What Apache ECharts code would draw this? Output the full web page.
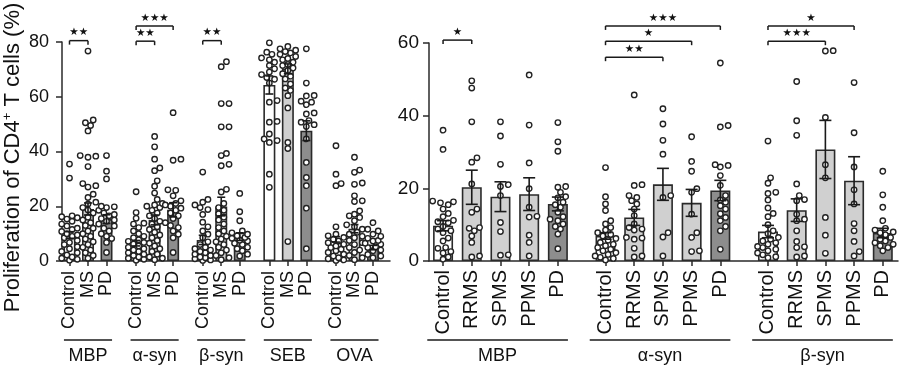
<!DOCTYPE html>
<html><head><meta charset="utf-8">
<script src="https://cdn.jsdelivr.net/npm/echarts@6/dist/echarts.min.js"></script>
<style>html,body{margin:0;padding:0;background:#fff}#c{width:900px;height:366px}</style>
</head><body><div id="c"></div>
<script>
// ---------- categories / labels ----------
const leftGroups = ['MBP', 'α-syn', 'β-syn', 'SEB', 'OVA'];
const leftCats = ['Control', 'MS', 'PD'];
const rightGroups = ['MBP', 'α-syn', 'β-syn'];
const rightCats = ['Control', 'RRMS', 'SPMS', 'PPMS', 'PD'];
const leftYTicks = [0, 20, 40, 60, 80];
const rightYTicks = [0, 20, 40, 60];
const yTitle = 'Proliferation of CD4{sup|+} T cells (%)';

// ---------- bar means and SEM ----------
const leftMeans = [[9.5, 19.0, 15.3], [6.5, 15.0, 18.7], [7.7, 19.9, 8.9], [64.3, 70.2, 47.6], [7.9, 11.8, 4.9]];
const leftSEM   = [[1.2, 2.2, 1.6], [1.0, 1.8, 2.6], [1.7, 3.4, 1.4], [3.3, 1.8, 3.6], [1.0, 1.5, 0.8]];
const rightMeans = [[9.7, 20.3, 17.7, 18.4, 15.7], [6.9, 12.0, 21.1, 16.0, 19.4], [8.1, 14.0, 30.7, 22.1, 7.7]];
const rightSEM   = [[1.4, 4.7, 4.1, 4.5, 1.9], [0.9, 2.2, 4.4, 3.7, 2.8], [1.7, 3.1, 8.0, 6.6, 1.3]];

// ---------- individual donors (left panel) ----------
const ptsL_MBP = [
  [35.4, 30.3, 16.5, 16.2, 15.8, 15.3, 14.5, 13.5, 12.8, 12, 11.5, 10.8, 10, 9.5, 9, 8.5, 7.5, 6.8, 6, 5.2, 4.5, 3.5, 3, 2.2, 1.5, 1, 0.6, 0.3],
  [76.7, 51.5, 50.5, 49.5, 47.5, 38.5, 38.3, 37.9, 34.5, 28.3, 27.5, 27, 24.4, 23.2, 21.5, 20.8, 19.5, 18.6, 17.5, 16, 15, 14, 13, 12, 11, 10, 9, 8, 7, 6, 5, 4, 3, 2, 1],
  [38.5, 32.8, 30, 20, 19.8, 19.5, 18.5, 17.5, 17, 16.5, 15.5, 15, 14.5, 13.5, 12.8, 12, 11, 10, 9, 8.2, 6.8, 3.1]
];
const ptsL_aSyn = [
  [25.3, 17.7, 15.6, 13.8, 13.5, 12.2, 11, 10, 9, 8.5, 7.8, 7.2, 6.8, 6.2, 5.5, 5, 4.5, 4, 3.5, 3, 2.5, 2, 1.5, 1, 0.6, 0.3],
  [45.5, 41.7, 37.2, 34, 33, 29.3, 27.3, 24.8, 22.5, 21, 20.5, 20, 19.5, 18.5, 17.5, 16.5, 15.5, 14.5, 13.5, 12.5, 11.5, 10.5, 9.5, 8.5, 7.5, 6.5, 5.5, 4.5, 3.5, 2.5, 1.5, 1, 0.5],
  [54.2, 37.2, 36.8, 26, 25.8, 23.8, 22, 21, 20.5, 20, 19.3, 18.5, 17.5, 16.5, 15.5, 14, 13, 12.2, 11, 9.8, 8.5, 3.1]
];
const ptsL_bSyn = [
  [32.5, 22.5, 21.5, 20.5, 19.5, 18.8, 17, 14.2, 12.5, 11, 9.8, 8.5, 7, 6, 5, 4.5, 4, 3.5, 3, 2.5, 2, 1.5, 1.2, 0.8, 0.4, 0.2],
  [72.8, 71, 57.5, 57.5, 49, 49, 39.3, 38.5, 35.3, 34.8, 26.2, 25.2, 21, 19.5, 18.5, 17.3, 16, 15, 13.5, 12.2, 11, 10, 9, 8, 7, 6, 5, 4, 3, 2, 1.2, 0.5],
  [24.7, 18, 14.7, 11, 10.3, 9.8, 9.2, 8.6, 8.3, 7.6, 7.3, 6.5, 6, 5, 4.5, 3.7, 2.5, 1.8]
];
const ptsL_SEB = [
  [79.7, 76.3, 75.5, 74.2, 73.5, 72.6, 71.4, 70.2, 69, 68.1, 67, 66.4, 65, 58.6, 58, 51, 50.7, 46.4, 44.6, 44, 43.3, 31.7, 26.9],
  [78.4, 77.5, 77, 76.5, 76, 75.5, 74.7, 74, 73.5, 72.6, 71.8, 71.4, 70.5, 69.6, 68.4, 67.5, 66.5, 64.7, 63.2, 62.3, 60.4, 55.9, 43.3, 41.1, 7.1],
  [77.5, 65, 60.5, 60.3, 58.4, 58, 57.1, 54.1, 53.7, 51.3, 50.7, 49.8, 49.1, 44.6, 36, 30.5, 27.5, 19.3, 4.5]
];
const ptsL_OVA = [
  [42.1, 31.7, 28.3, 27.5, 12.5, 9.8, 9.2, 8.6, 7.9, 7.3, 6.7, 6.1, 5.5, 4.9, 4.3, 3.7, 3.1, 2.5, 1.8, 1.2, 0.8, 0.4, 0.2],
  [37.9, 33.2, 32.4, 28.5, 28, 23.8, 22, 21.7, 18.3, 17.1, 16.5, 15.9, 14.7, 13.2, 12.5, 11.6, 10.5, 9.8, 9, 8.5, 7.5, 6.7, 6, 4.9, 4, 3.1, 2, 1.2, 0.5],
  [14, 11.6, 11, 9.8, 9, 8.3, 7.5, 7.3, 6.5, 6.1, 5.2, 4.9, 4, 3.7, 2.4, 1.8, 1.2]
];

// ---------- individual donors (right panel) ----------
const ptsR_MBP = [
  [36, 30.7, 16.5, 16.3, 16, 15.5, 14.3, 13.1, 12.2, 11.2, 10.8, 10.5, 9.5, 8.8, 8.3, 7.8, 6.3, 5.5, 3.7, 3.5, 2.6, 2.2, 1.1, 0.5],
  [49.6, 47.6, 38.3, 28.4, 27.2, 21.2, 14.3, 13.4, 9.2, 9, 8.3, 6.9, 5.1, 1.4, 1.1],
  [38.3, 34.4, 26.6, 21, 20.5, 18, 10.6, 8.1, 1.7, 1.6],
  [51.2, 37.4, 27, 19.9, 14.8, 12.3, 12.1, 7.1, 5.1, 1.4],
  [38.1, 32.8, 30.2, 20.5, 20.3, 18.9, 17.7, 17.4, 16.2, 15.5, 14.8, 13.4, 12.2, 11.5, 11.1, 10.2, 9.5, 8.8, 7.4, 3.4]
];
const ptsR_aSyn = [
  [25.7, 17.7, 15.7, 13.9, 11.1, 10.2, 9.2, 8.5, 7.8, 7.3, 6.9, 6.2, 5.7, 5.1, 4.6, 4.2, 3.7, 3.2, 2.8, 2.3, 1.8, 1.4, 1, 0.7, 0.3],
  [45.7, 21, 20.8, 18, 17.5, 16.6, 15.7, 14.3, 12.5, 10.2, 9.2, 8.8, 8.5, 6.5, 6.3, 6, 3.5, 1.4, 1.1],
  [41.9, 37.7, 33.2, 29.4, 18, 17.5, 7.8, 6.6, 1.4],
  [34.2, 27.4, 24.7, 19.9, 18.9, 12.9, 7.8, 6.5, 2.8, 2.6],
  [54.5, 37.3, 36.9, 26.5, 26.3, 25.9, 23.5, 20.8, 18, 16.8, 16.2, 15.2, 14.3, 13, 12, 11.1, 9.5, 8.3, 3.2]
];
const ptsR_bSyn = [
  [33, 22.9, 21.4, 18.9, 18.6, 16.8, 14.6, 13.1, 12.2, 10, 8.3, 7.5, 6.5, 6, 5.5, 5, 4.6, 4, 3.7, 3.2, 2.8, 2.2, 1.7, 1.2, 0.9],
  [49.4, 38.6, 34.6, 21.2, 18, 16.9, 16.6, 12.9, 11.5, 11.1, 8.3, 5.4, 3.9, 3.7, 1.4, 1.1],
  [57.9, 57.8, 39.5, 26.5, 22.9, 12, 7.1, 2.1],
  [49.1, 35.3, 25.9, 19.6, 15.7, 10.3, 8.3, 5.4, 2.6, 1.4],
  [24.7, 18.2, 14.8, 11.1, 9, 8.5, 8, 7.8, 7.2, 6.5, 6, 5.5, 5, 4.6, 4.2, 3.7, 2.8]
];

// ---------- significance: [group, fromBar, toBar, y, label] ----------
const leftSig = [[0, 0, 1, 80.5, '★★'], [1, 0, 1, 80.3, '★★'], [1, 0, 2, 85.8, '★★★'], [2, 0, 1, 80.5, '★★']];
const rightSig = [[0, 0, 1, 60.8, '★'], [1, 0, 2, 56.1, '★★'], [1, 0, 3, 60.5, '★'], [1, 0, 4, 64.7, '★★★'],
                  [2, 0, 2, 60.5, '★★★'], [2, 0, 3, 64.7, '★']];

// ---------- layout helpers ----------
const leftColors = ['#ffffff', '#d0d0d0', '#8d8d8d'];
const rightColors = ['#ffffff', '#d0d0d0', '#d0d0d0', '#d0d0d0', '#8d8d8d'];
const INK = '#2a2a2a';
const FONT = '"Liberation Sans", Arial, Helvetica, sans-serif';
const posL = (g, b) => +(g * 3.6 + b).toFixed(4);
const posR = (g, b) => +(g * 5.66 + b).toFixed(4);

const leftPts = [ptsL_MBP, ptsL_aSyn, ptsL_bSyn, ptsL_SEB, ptsL_OVA];
const rightPts = [ptsR_MBP, ptsR_aSyn, ptsR_bSyn];

function tickInfo(groups, cats, posFn) {
  const pos = [], lbl = {};
  groups.forEach((_, g) => cats.forEach((c, b) => { const x = posFn(g, b); pos.push(x); lbl[x.toFixed(3)] = c; }));
  return { pos, lbl };
}
const tL = tickInfo(leftGroups, leftCats, posL);
const tR = tickInfo(rightGroups, rightCats, posR);

function xAxisCfg(gi, min, max, t, fs, margin) {
  return {
    type: 'value', gridIndex: gi, min, max,
    axisLine: { show: true, onZero: false, lineStyle: { color: INK, width: 1.5 } },
    splitLine: { show: false },
    axisTick: { show: true, customValues: t.pos, length: 5, lineStyle: { color: INK, width: 1.5 } },
    axisLabel: { show: true, customValues: t.pos, rotate: 90, margin, fontSize: fs, fontFamily: FONT, color: '#111',
      formatter: v => t.lbl[(+v).toFixed(3)] || '' }
  };
}
function yAxisCfg(gi, max, ticks, fs, margin, withName) {
  const c = {
    type: 'value', gridIndex: gi, min: 0, max, interval: ticks[1] - ticks[0],
    axisLine: { show: true, onZero: false, lineStyle: { color: INK, width: 1.5 } },
    axisTick: { show: true, length: 6, lineStyle: { color: INK, width: 1.5 } },
    splitLine: { show: false },
    axisLabel: { fontSize: fs, fontFamily: FONT, color: '#111', margin }
  };
  if (withName) {
    c.name = yTitle; c.nameLocation = 'middle'; c.nameGap = 37;
    c.nameTextStyle = { fontSize: 22, fontFamily: FONT, color: '#111', lineHeight: 24, padding: [0, 12, 0, 0],
      rich: { sup: { fontSize: 13, fontFamily: FONT, color: '#111', verticalAlign: 'top', lineHeight: 13 } } };
  }
  return c;
}

function barSeries(ai, means, colors, posFn, width) {
  const data = [];
  means.forEach((g, gi) => g.forEach((m, bi) => data.push({ value: [posFn(gi, bi), m], itemStyle: { color: colors[bi] } })));
  return { type: 'bar', xAxisIndex: ai, yAxisIndex: ai, barWidth: width, data, z: 2, silent: true,
    itemStyle: { borderColor: INK, borderWidth: 1.6 } };
}

function pointSeries(ai, pts, posFn, halfW) {
  const data = [];
  pts.forEach((g, gi) => g.forEach((arr, bi) => data.push([posFn(gi, bi), 0, gi, bi])));
  return { type: 'custom', xAxisIndex: ai, yAxisIndex: ai, data, z: 3, silent: true, clip: false,
    encode: { x: 0, y: 1 },
    renderItem(params, api) {
      const x = api.value(0), vals = pts[api.value(2)][api.value(3)];
      const sorted = vals.slice().sort((a, b) => a - b);
      const placed = [], kids = [];
      const step = 2.6, minD = 5.6, kmax = Math.floor(halfW / step);
      sorted.forEach(v => {
        const p = api.coord([x, v]);
        let best = 0, bestScore = -1;
        for (let k = 0; k <= kmax * 2; k++) {
          const off = (k % 2 ? 1 : -1) * Math.ceil(k / 2) * step;
          let dmin = 1e9;
          placed.forEach(q => { const d = Math.hypot(q[0] - (p[0] + off), q[1] - p[1]); if (d < dmin) dmin = d; });
          if (dmin >= minD) { best = off; break; }
          if (dmin > bestScore) { bestScore = dmin; best = off; }
        }
        const cx = p[0] + best;
        placed.push([cx, p[1]]);
        kids.push({ type: 'circle', shape: { cx, cy: p[1], r: 2.7 }, style: { fill: '#fff', stroke: '#222', lineWidth: 1.4 } });
      });
      return { type: 'group', children: kids };
    } };
}

function errSeries(ai, means, sems, posFn, cap) {
  const data = [];
  means.forEach((g, gi) => g.forEach((m, bi) => data.push([posFn(gi, bi), m, sems[gi][bi]])));
  return { type: 'custom', xAxisIndex: ai, yAxisIndex: ai, data, z: 4, silent: true, clip: false,
    encode: { x: 0, y: 1 },
    renderItem(params, api) {
      const x = api.value(0), m = api.value(1), s = api.value(2);
      const t = api.coord([x, m + s]), b = api.coord([x, Math.max(0, m - s)]);
      const st = { stroke: '#1a1a1a', lineWidth: 1.6 };
      return { type: 'group', children: [
        { type: 'line', shape: { x1: t[0], y1: t[1], x2: b[0], y2: b[1] }, style: st },
        { type: 'line', shape: { x1: t[0] - cap, y1: t[1], x2: t[0] + cap, y2: t[1] }, style: st },
        { type: 'line', shape: { x1: b[0] - cap, y1: b[1], x2: b[0] + cap, y2: b[1] }, style: st }
      ] };
    } };
}

function sigSeries(ai, sig, posFn) {
  const data = sig.map((s, i) => [posFn(s[0], s[1]), s[3], posFn(s[0], s[2]), i]);
  return { type: 'custom', xAxisIndex: ai, yAxisIndex: ai, data, z: 5, silent: true, clip: false,
    encode: { x: 0, y: 1 },
    renderItem(params, api) {
      const y = api.value(1);
      const a = api.coord([api.value(0), y]), b = api.coord([api.value(2), y]);
      const lab = sig[api.value(3)][4];
      const st = { stroke: '#1a1a1a', lineWidth: 1.5 };
      return { type: 'group', children: [
        { type: 'line', shape: { x1: a[0], y1: a[1], x2: b[0], y2: b[1] }, style: st },
        { type: 'line', shape: { x1: a[0], y1: a[1], x2: a[0], y2: a[1] + 4 }, style: st },
        { type: 'line', shape: { x1: b[0], y1: b[1], x2: b[0], y2: b[1] + 4 }, style: st },
        { type: 'text', x: (a[0] + b[0]) / 2, y: a[1] - 8,
          style: { text: lab, fontSize: 10.5, fontFamily: '"DejaVu Sans", sans-serif', fill: '#111', align: 'center', verticalAlign: 'middle' } }
      ] };
    } };
}

function groupLabelSeries(ai, groups, centerFn, half) {
  const data = groups.map((g, i) => [centerFn(i), 0, i]);
  return { type: 'custom', xAxisIndex: ai, yAxisIndex: ai, data, z: 5, silent: true, clip: false,
    encode: { x: 0, y: 1 },
    renderItem(params, api) {
      const cx = api.value(0);
      const l = api.coord([cx - half, 0]), r = api.coord([cx + half, 0]), c = api.coord([cx, 0]);
      return { type: 'group', children: [
        { type: 'line', shape: { x1: l[0], y1: c[1] + 79, x2: r[0], y2: c[1] + 79 }, style: { stroke: '#1a1a1a', lineWidth: 1.5 } },
        { type: 'text', x: c[0], y: c[1] + 95,
          style: { text: groups[api.value(2)], fontSize: 18, fontFamily: FONT, fill: '#111', align: 'center', verticalAlign: 'middle' } }
      ] };
    } };
}

const chart = echarts.init(document.getElementById('c'), null, { renderer: 'canvas' });
chart.setOption({
  animation: false,
  backgroundColor: '#fff',
  grid: [
    { left: 62, top: 42, width: 328, height: 219, outerBoundsMode: 'none', containLabel: false },
    { left: 429, top: 43, width: 469, height: 218, outerBoundsMode: 'none', containLabel: false }
  ],
  xAxis: [xAxisCfg(0, -0.405, 17.32, tL, 18, 10), xAxisCfg(1, -0.49, 15.85, tR, 20, 9)],
  yAxis: [yAxisCfg(0, 80, leftYTicks, 18, 13, true), yAxisCfg(1, 60, rightYTicks, 19, 10, false)],
  series: [
    barSeries(0, leftMeans, leftColors, posL, 12),
    barSeries(1, rightMeans, rightColors, posR, 20),
    pointSeries(0, leftPts, posL, 8),
    pointSeries(1, rightPts, posR, 11),
    errSeries(0, leftMeans, leftSEM, posL, 4),
    errSeries(1, rightMeans, rightSEM, posR, 6),
    sigSeries(0, leftSig, posL),
    sigSeries(1, rightSig, posR),
    groupLabelSeries(0, leftGroups, g => posL(g, 1), 1.3),
    groupLabelSeries(1, rightGroups, g => posR(g, 2) - 0.1, 2.45)
  ]
});
</script>
</body></html>
